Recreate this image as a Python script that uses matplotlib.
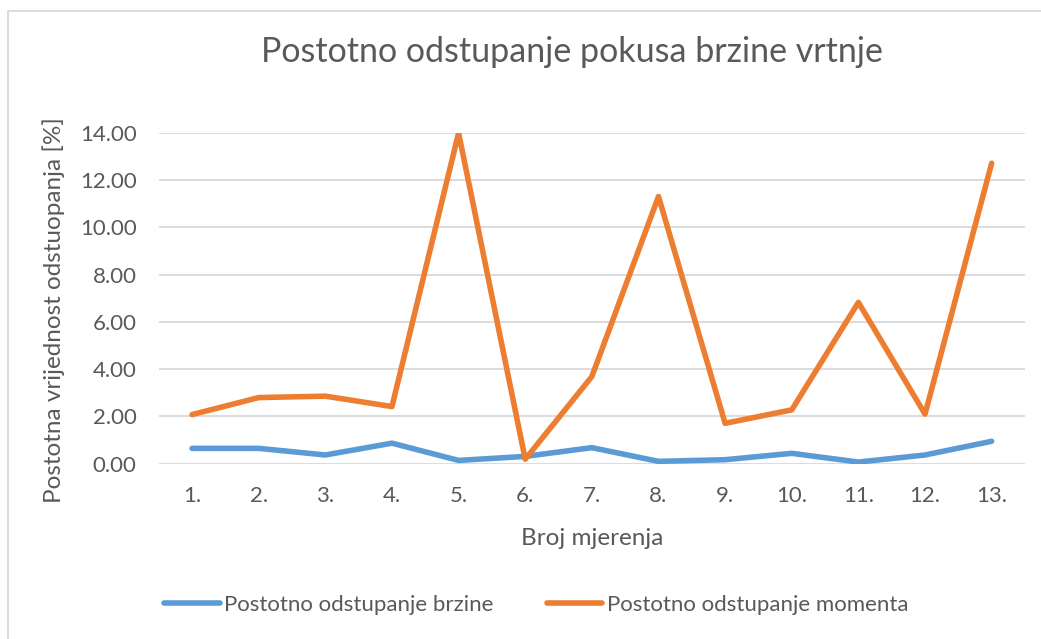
import matplotlib.pyplot as plt
from matplotlib.lines import Line2D
from matplotlib.patches import Rectangle

# measurement labels and percentage deviations
mjerenja = ["1.", "2.", "3.", "4.", "5.", "6.", "7.", "8.", "9.", "10.", "11.", "12.", "13."]
odst_brzine = [0.65, 0.65, 0.37, 0.87, 0.14, 0.31, 0.68, 0.10, 0.17, 0.44, 0.07, 0.37, 0.95]
odst_momenta = [2.08, 2.80, 2.86, 2.42, 14.00, 0.19, 3.69, 11.31, 1.71, 2.28, 6.83, 2.10, 12.72]
y_ticks = [0, 2, 4, 6, 8, 10, 12, 14]

BLUE = "#5b9bd5"
ORANGE = "#ed7d31"
TEXT = "#595959"
GRID = "#d9d9d9"

plt.rcParams["font.family"] = ["Lato", "DejaVu Sans"]

fig = plt.figure(figsize=(10.41, 6.39), dpi=100)
ax = fig.add_axes([0.1525, 0.2743, 0.8321, 0.5176])

# chart frame
fig.patches.append(Rectangle((8 / 1041, -0.01), 1.05, 1 - 11 / 639 + 0.01,
                             transform=fig.transFigure, fill=False,
                             edgecolor=GRID, linewidth=1.3))

x = list(range(len(mjerenja)))
ax.plot(x, odst_brzine, color=BLUE, linewidth=4, solid_capstyle="round",
        solid_joinstyle="round", label="Postotno odstupanje brzine", zorder=3)
ax.plot(x, odst_momenta, color=ORANGE, linewidth=4, solid_capstyle="round",
        solid_joinstyle="round", label="Postotno odstupanje momenta", zorder=3)

ax.set_xlim(-0.5, len(mjerenja) - 0.5)
ax.set_ylim(0, 14)
ax.set_xticks(x)
ax.set_xticklabels(mjerenja)
ax.set_yticks(y_ticks)
ax.set_yticklabels([f"{v:.2f}" for v in y_ticks])
ax.yaxis.grid(True, color=GRID, linewidth=1.3)
ax.set_axisbelow(True)
for s in ax.spines.values():
    s.set_visible(False)
ax.tick_params(length=0, colors=TEXT, labelsize=16)
ax.tick_params(axis="x", pad=16)
ax.tick_params(axis="y", pad=16)

ax.set_xlabel("Broj mjerenja", color=TEXT, fontsize=17.5, labelpad=16)
ax.set_ylabel("Postotna vrijednost odstuopanja [%]", color=TEXT, fontsize=17.5)
ax.yaxis.set_label_coords(-0.108, 0.465)
fig.suptitle("Postotno odstupanje pokusa brzine vrtnje", color=TEXT,
             fontsize=24.5, x=0.549, y=0.943)

handles = [Line2D([], [], color=BLUE, linewidth=4, solid_capstyle="round"),
           Line2D([], [], color=ORANGE, linewidth=4, solid_capstyle="round")]
fig.legend(handles, ["Postotno odstupanje brzine", "Postotno odstupanje momenta"],
           loc="center", bbox_to_anchor=(0.515, 0.053), ncol=2, frameon=False,
           fontsize=16, labelcolor=TEXT, handlelength=2.5, handletextpad=0.2,
           columnspacing=2.4)

fig.savefig("out.png", dpi=100, facecolor="white")
